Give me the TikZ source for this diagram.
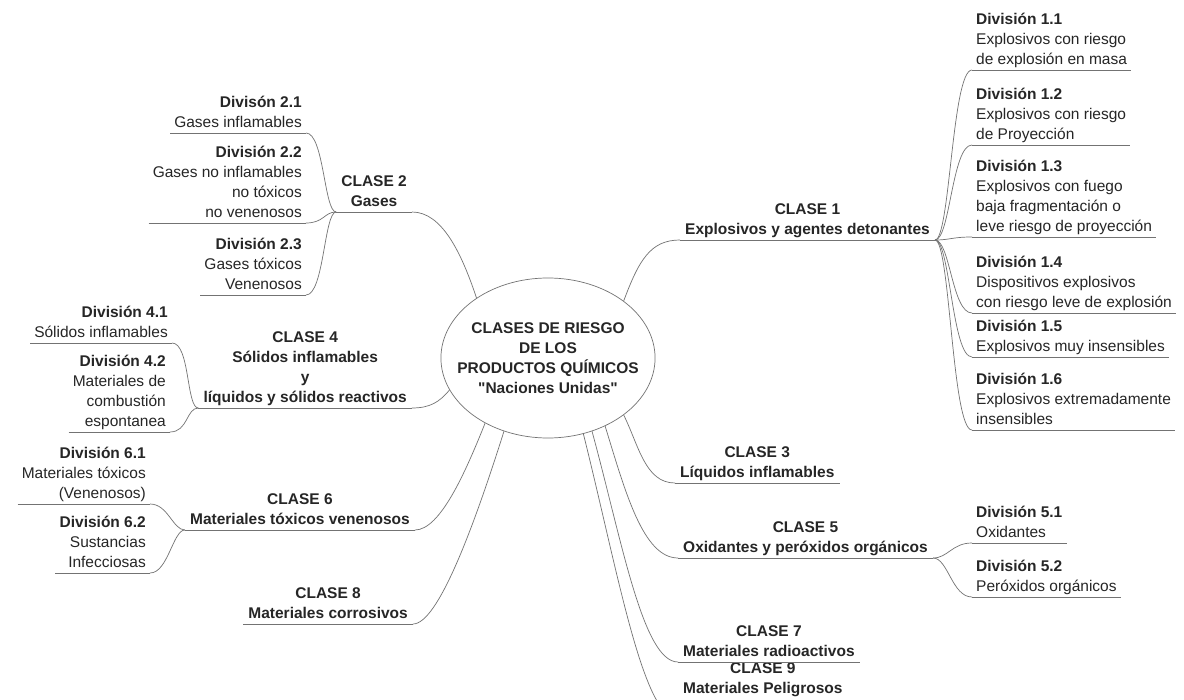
\documentclass[tikz,border=0pt]{standalone}
\usepackage{fontspec}
\setmainfont{Liberation Sans}
\usetikzlibrary{shapes.geometric}
\colorlet{rama color}{black!55}
\colorlet{texto}{black!85}
\tikzset{
  topic/.style={font=\fontsize{15.5}{20}\selectfont, text=texto, inner xsep=4pt, inner ysep=2pt, text depth=3pt},
  clase/.style={topic, font=\fontsize{15.5}{20}\selectfont\bfseries, align=center, inner xsep=5pt},
  claseR/.style={clase, anchor=south west},
  claseL/.style={clase, anchor=south east},
  divR/.style={topic, align=left, anchor=south west},
  divL/.style={topic, align=right, anchor=south east},
  edge/.style={draw=rama color, line width=0.7pt},
  centro/.style={ellipse, edge, font=\fontsize{15.5}{20}\selectfont\bfseries, text=texto, align=center,
    inner xsep=-15pt, inner ysep=0pt, minimum width=204pt, minimum height=160pt}
}

\begin{document}
\begin{tikzpicture}[x=1pt,y=-1pt]
    \useasboundingbox (0,0) rectangle (1184,700);
    \clip (0,0) rectangle (1184,700);
    \fill[white] (0,0) rectangle (1184,700);
    \node[centro] (centro) at (548,358) {CLASES DE RIESGO\\DE LOS\\PRODUCTOS QUÍMICOS\\\textquotedbl Naciones Unidas\textquotedbl};
    % clases
    \node[claseR] (c1) at (680,240) {CLASE 1\\Explosivos y agentes detonantes};
    \node[claseL] (c2) at (412,212) {CLASE 2\\Gases};
    \node[claseR] (c3) at (675,483) {CLASE 3\\Líquidos inflamables};
    \node[claseL] (c4) at (412,408) {CLASE 4\\Sólidos inflamables\\y\\líquidos y sólidos reactivos};
    \node[claseR] (c5) at (678,558) {CLASE 5\\Oxidantes y peróxidos orgánicos};
    \node[claseL] (c6) at (415,530) {CLASE 6\\Materiales tóxicos venenosos};
    \node[claseR] (c7) at (678,662) {CLASE 7\\Materiales radioactivos};
    \node[claseL] (c8) at (413,624) {CLASE 8\\Materiales corrosivos};
    \node[claseR] (c9) at (678,719) {CLASE 9\\Materiales Peligrosos\\Misceláneos};
    % divisiones
    \node[divR] (d11) at (972,70) {\textbf{División 1.1}\\Explosivos con riesgo\\de explosión en masa};
    \node[divR] (d12) at (972,145) {\textbf{División 1.2}\\Explosivos con riesgo\\de Proyección};
    \node[divR] (d13) at (972,237) {\textbf{División 1.3}\\Explosivos con fuego\\baja fragmentación o\\leve riesgo de proyección};
    \node[divR] (d14) at (972,313) {\textbf{División 1.4}\\Dispositivos explosivos\\con riesgo leve de explosión};
    \node[divR] (d15) at (972,357) {\textbf{División 1.5}\\Explosivos muy insensibles};
    \node[divR] (d16) at (972,430) {\textbf{División 1.6}\\Explosivos extremadamente\\insensibles};
    \node[divL] (d21) at (306,133) {\textbf{Divisón 2.1}\\Gases inflamables};
    \node[divL] (d22) at (306,223) {\textbf{División 2.2}\\Gases no inflamables\\no tóxicos\\no venenosos};
    \node[divL] (d23) at (306,295) {\textbf{División 2.3}\\Gases tóxicos\\Venenosos};
    \node[divL] (d41) at (172,343) {\textbf{División 4.1}\\Sólidos inflamables};
    \node[divL] (d42) at (170,432) {\textbf{División 4.2}\\Materiales de\\combustión\\espontanea};
    \node[divR] (d51) at (972,543) {\textbf{División 5.1}\\Oxidantes};
    \node[divR] (d52) at (972,597) {\textbf{División 5.2}\\Peróxidos orgánicos};
    \node[divL] (d61) at (150,504) {\textbf{División 6.1}\\Materiales tóxicos\\(Venenosos)};
    \node[divL] (d62) at (150,573) {\textbf{División 6.2}\\Sustancias\\Infecciosas};
    \foreach \n in {c1,c2,c3,c4,c5,c6,c7,c8,c9,d11,d12,d13,d14,d15,d16,d21,d22,d23,d41,d42,d51,d52,d61,d62}
      \draw[edge] (\n.south west) -- (\n.south east);
    % ramas principales
    \draw[edge] (centro.37) .. controls +(15,-40) and +(-30,0) .. (c1.south west);
    \draw[edge] (centro.140) .. controls +(-15,-45) and +(30,0) .. (c2.south east);
    \draw[edge] (centro.198) .. controls +(-10,12) and +(18,0) .. (c4.south east);
    \draw[edge] (centro.226) .. controls +(-20,50) and +(25,0) .. (c6.south east);
    \draw[edge] (centro.239) .. controls +(-30,95) and +(25,0) .. (c8.south east);
    \draw[edge] (centro.323) .. controls +(15,30) and +(-30,0) .. (c3.south west);
    \draw[edge] (centro.310) .. controls +(20,65) and +(-35,0) .. (c5.south west);
    \draw[edge] (centro.301) .. controls +(30,110) and +(-35,0) .. (c7.south west);
    \draw[edge] (centro.295) .. controls +(35,140) and +(-35,0) .. (c9.south west);
    % subramas
    \foreach \d in {d11,d12,d13,d14,d15,d16}
      \draw[edge] (c1.south east) .. controls +(15,0) and +(-20,0) .. (\d.south west);
    \foreach \d in {d51,d52}
      \draw[edge] (c5.south east) .. controls +(15,0) and +(-20,0) .. (\d.south west);
    \foreach \d in {d21,d22,d23}
      \draw[edge] (c2.south west) .. controls +(-12,0) and +(18,0) .. (\d.south east);
    \foreach \d in {d41,d42}
      \draw[edge] (c4.south west) .. controls +(-12,0) and +(18,0) .. (\d.south east);
    \foreach \d in {d61,d62}
      \draw[edge] (c6.south west) .. controls +(-12,0) and +(18,0) .. (\d.south east);
\end{tikzpicture}
\end{document}
